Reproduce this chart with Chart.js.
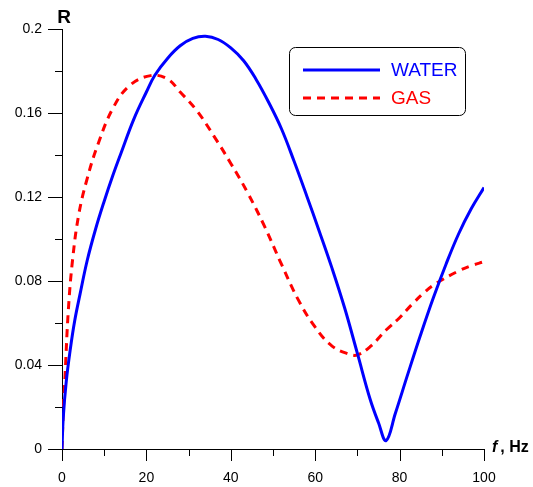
<!DOCTYPE html>
<html>
<head>
<meta charset="utf-8">
<script src="https://cdn.jsdelivr.net/npm/chart.js@4.4.0/dist/chart.umd.min.js"></script>
<style>
  html, body { margin: 0; padding: 0; background: #fff; }
  #wrap { width: 533px; height: 487px; }
</style>
</head>
<body>
<div id="wrap"><canvas id="grafico"></canvas></div>
<script>
// valores (f en Hz, R)
const waterF = [0, 0.3, 1, 2, 3, 4.3, 6, 8, 10, 12, 14, 17, 20, 22, 25, 28, 31, 34, 37, 40, 43, 46, 49, 52, 55, 58, 61, 64, 67, 70, 73, 75, 76.8, 79, 82, 85, 88, 91, 94, 97, 100];
const waterR = [0, 0.015, 0.032, 0.048, 0.061, 0.074, 0.090, 0.105, 0.118, 0.130, 0.141, 0.157, 0.170, 0.178, 0.186, 0.192, 0.1955, 0.1965, 0.195, 0.191, 0.185, 0.176, 0.165, 0.1525, 0.137, 0.1205, 0.1035, 0.0860, 0.067, 0.0455, 0.0238, 0.0125, 0.004, 0.017, 0.036, 0.0545, 0.0720, 0.0880, 0.1025, 0.1145, 0.1245];

const gasF = [0, 0.3, 0.7, 1.5, 2.5, 4, 6, 8.5, 12, 16, 21, 25, 28, 32, 36, 40, 44, 48, 52, 56, 60, 64, 68, 70, 73, 77, 80, 83, 86, 88, 90, 94, 97, 100];
const gasR = [0, 0.018, 0.034, 0.066, 0.090, 0.112, 0.129, 0.145, 0.162, 0.173, 0.1778, 0.1762, 0.170, 0.161, 0.149, 0.136, 0.122, 0.106, 0.088, 0.071, 0.058, 0.049, 0.0452, 0.0448, 0.0487, 0.057, 0.0625, 0.0690, 0.0748, 0.0780, 0.0805, 0.0848, 0.0873, 0.0892];

const seriesNames = ['WATER', 'GAS'];
const xTitle = ', Hz';
const yTitle = 'R';

function toPoints(xs, ys) {
    return xs.map((x, i) => ({ x: x, y: ys[i] }));
}

// ticks mayores/menores, leyenda y titulos de ejes
const extras = {
    id: 'extras',
    afterDraw(chart) {
        const ctx = chart.ctx;
        const a = chart.chartArea;
        const xs = chart.scales.x;
        const ys = chart.scales.y;
        ctx.save();
        ctx.strokeStyle = '#000';
        ctx.lineWidth = 1;
        ys.ticks.forEach(t => {
            const p = Math.round(ys.getPixelForValue(t.value)) + 0.5;
            const len = t.label ? 14 : 7;
            ctx.beginPath();
            ctx.moveTo(a.left - len, p);
            ctx.lineTo(a.left, p);
            ctx.stroke();
        });
        xs.ticks.forEach(t => {
            const p = Math.round(xs.getPixelForValue(t.value)) + 0.5;
            const len = t.label ? 12 : 7;
            ctx.beginPath();
            ctx.moveTo(p, a.bottom);
            ctx.lineTo(p, a.bottom + len);
            ctx.stroke();
        });

        // titulos
        ctx.fillStyle = '#000';
        ctx.textBaseline = 'alphabetic';
        ctx.textAlign = 'center';
        ctx.font = 'bold 19px "Liberation Sans", Arial, sans-serif';
        ctx.fillText(yTitle, a.left + 2, 23);
        ctx.textAlign = 'left';
        ctx.font = 'italic bold 16px "Liberation Sans", Arial, sans-serif';
        ctx.fillText('f', 492, 452);
        const fw = ctx.measureText('f').width;
        ctx.font = 'bold 16px "Liberation Sans", Arial, sans-serif';
        ctx.fillText(xTitle, 492 + fw + 3, 452);

        // leyenda
        const bx = 289.5, by = 47.5, bw = 176, bh = 68;
        ctx.beginPath();
        ctx.roundRect(bx, by, bw, bh, 6);
        ctx.fillStyle = '#fff';
        ctx.fill();
        ctx.strokeStyle = '#000';
        ctx.lineWidth = 1;
        ctx.stroke();
        chart.data.datasets.forEach((ds, i) => {
            const yy = 70 + i * 28;
            ctx.strokeStyle = ds.borderColor;
            ctx.lineWidth = ds.borderWidth;
            ctx.setLineDash(ds.borderDash || []);
            ctx.beginPath();
            ctx.moveTo(303, yy);
            ctx.lineTo(380, yy);
            ctx.stroke();
            ctx.setLineDash([]);
            ctx.fillStyle = ds.borderColor;
            ctx.font = '19px "Liberation Sans", Arial, sans-serif';
            ctx.textBaseline = 'middle';
            ctx.fillText(ds.label, 391, yy + 1);
        });
        ctx.restore();
    }
};

function createChart() {
    const ctx = document.getElementById('grafico').getContext('2d');
    new Chart(ctx, {
        type: 'line',
        data: {
            datasets: [{
                label: seriesNames[0],
                data: toPoints(waterF, waterR),
                borderColor: '#0000ff',
                borderWidth: 3,
                pointRadius: 0,
                tension: 0.4,
                fill: false
            }, {
                label: seriesNames[1],
                data: toPoints(gasF, gasR),
                borderColor: '#ff0000',
                borderWidth: 3,
                borderDash: [8, 6],
                pointRadius: 0,
                tension: 0.4,
                fill: false
            }]
        },
        options: {
            responsive: true,
            maintainAspectRatio: false,
            animation: false,
            layout: { padding: { top: 29, right: 49, bottom: 0, left: 0 } },
            plugins: {
                legend: { display: false },
                tooltip: { enabled: false }
            },
            scales: {
                x: {
                    type: 'linear',
                    min: 0,
                    max: 100,
                    grid: { display: false, drawTicks: false },
                    border: { display: true, color: '#000', width: 1 },
                    ticks: {
                        stepSize: 10,
                        padding: 21,
                        maxRotation: 0,
                        autoSkip: false,
                        color: '#000',
                        font: { family: '"Liberation Sans", Arial, sans-serif', size: 14 },
                        callback: v => (Math.round(v) % 20 === 0 ? String(Math.round(v)) : '')
                    },
                    afterFit: s => { s.height = 38; }
                },
                y: {
                    min: 0,
                    max: 0.2,
                    grid: { display: false, drawTicks: false },
                    border: { display: true, color: '#000', width: 1 },
                    ticks: {
                        stepSize: 0.02,
                        padding: 20,
                        autoSkip: false,
                        color: '#000',
                        font: { family: '"Liberation Sans", Arial, sans-serif', size: 14 },
                        callback: v => (Math.round(v * 100) % 4 === 0 ? String(parseFloat(v.toFixed(2))) : '')
                    },
                    afterFit: s => { s.width = 62; }
                }
            }
        },
        plugins: [extras]
    });
}

window.onload = createChart;
</script>
</body>
</html>
